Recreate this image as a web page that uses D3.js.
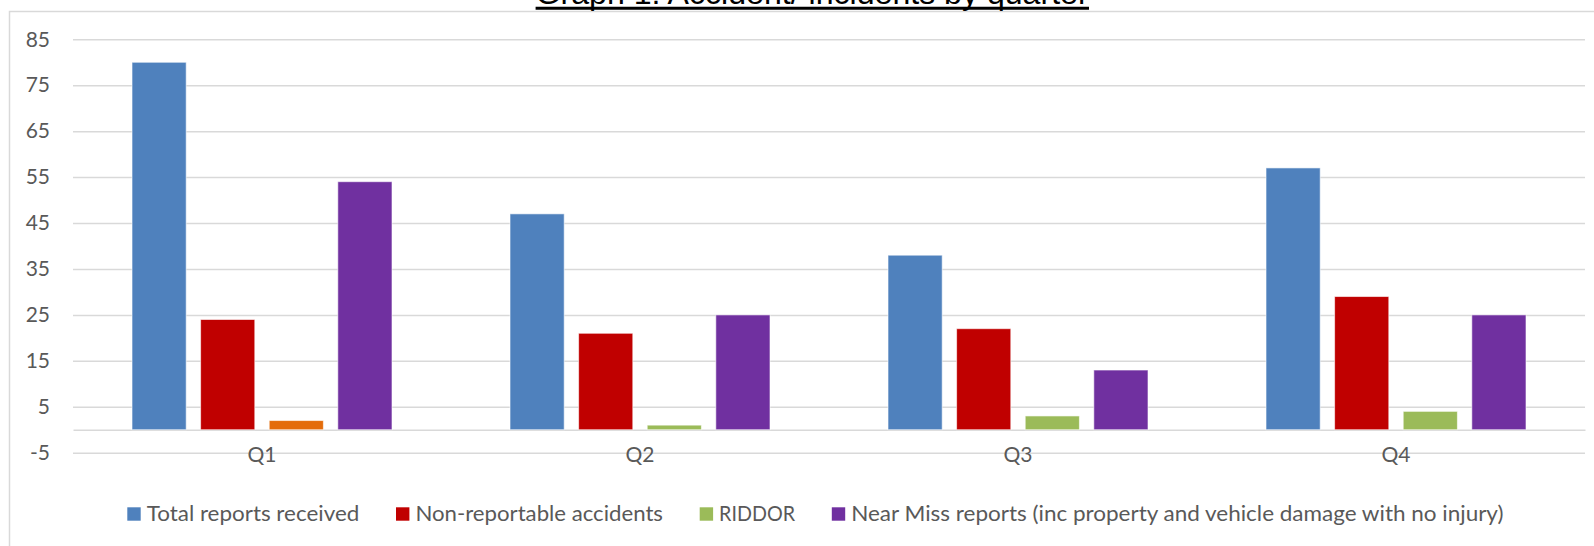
<!DOCTYPE html>
<html>
<head>
<meta charset="utf-8">
<script src="https://cdn.jsdelivr.net/npm/d3@7"></script>
<style>
  html, body { margin: 0; padding: 0; background: #fff; }
  svg { display: block; }
</style>
</head>
<body>
<svg id="chart" width="1594" height="546"></svg>
<script>
// ---- data ----
const titleText = "Graph 1: Accident/ incidents by quarter";
const quarters = ["Q1", "Q2", "Q3", "Q4"];
const seriesNames = [
  "Total reports received",
  "Non-reportable accidents",
  "RIDDOR",
  "Near Miss reports (inc property and vehicle damage with no injury)"
];
const totalReports = [80, 47, 38, 57];
const nonReportable = [24, 21, 22, 29];
const riddor = [2, 1, 3, 4];
const nearMiss = [54, 25, 13, 25];
const yTicks = [-5, 5, 15, 25, 35, 45, 55, 65, 75, 85];

// ---- styles ----
const seriesColors = ["#4F81BD", "#C00000", "#9BBB59", "#7030A0"];
const colorOverride = { "Q1|RIDDOR": "#E46C0A" };
const gridColor = "#D9D9D9";
const textColor = "#595959";
const fontFamily = "Lato, 'Open Sans', sans-serif";

const seriesValues = [totalReports, nonReportable, riddor, nearMiss];

const svg = d3.select("#chart");

// outer frame
svg.append("path")
  .attr("d", "M9.5,546 L9.5,11.5 L1594,11.5")
  .attr("fill", "none").attr("stroke", gridColor).attr("stroke-width", 1.5);

// title (cut off at top, as in the source image)
svg.append("text")
  .attr("x", 535.6).attr("y", 4)
  .attr("font-family", "'Liberation Sans', Arial, sans-serif")
  .attr("font-size", 32).attr("fill", "#000")
  .attr("textLength", 553).attr("lengthAdjust", "spacingAndGlyphs")
  .text(titleText);
svg.append("line")
  .attr("x1", 535.6).attr("x2", 1089).attr("y1", 8.3).attr("y2", 8.3)
  .attr("stroke", "#000").attr("stroke-width", 3);

// scales
const x0 = d3.scaleBand().domain(quarters).range([73, 1585]).paddingInner(0).paddingOuter(0);
const x1 = d3.scaleBand().domain(seriesNames).range([59, 319]).paddingInner(0.21).paddingOuter(0);
const y = d3.scaleLinear().domain([-5, 85]).range([452.7, 39.3]);

// gridlines + y tick labels
const yAxis = d3.axisLeft(y).tickValues(yTicks).tickSize(-(1585 - 73))
  .tickFormat(d => String(d)).tickPadding(23);
const yg = svg.append("g").attr("transform", "translate(73,0)").call(yAxis);
yg.select(".domain").remove();
yg.selectAll(".tick line").attr("stroke", gridColor).attr("stroke-width", 1.5);
yg.selectAll(".tick text")
  .attr("fill", textColor).attr("font-family", fontFamily).attr("font-size", 21);

// zero / category axis line
const xAxis = d3.axisBottom(x0).tickSize(0).tickPadding(0);
const xg = svg.append("g").attr("transform", `translate(0,${y(0)})`).call(xAxis);
xg.select(".domain").attr("stroke", gridColor).attr("stroke-width", 1.5);
xg.selectAll(".tick text")
  .attr("fill", textColor).attr("font-family", fontFamily).attr("font-size", 21)
  .attr("dy", 0).attr("y", 32);

// bars
const rows = [];
quarters.forEach((q, qi) => {
  seriesNames.forEach((s, si) => {
    rows.push({ q, s, si, v: seriesValues[si][qi] });
  });
});
svg.append("g").selectAll("rect").data(rows).join("rect")
  .attr("x", d => x0(d.q) + x1(d.s))
  .attr("width", x1.bandwidth())
  .attr("y", d => y(Math.max(0, d.v)))
  .attr("height", d => Math.abs(y(d.v) - y(0)))
  .attr("fill", d => colorOverride[d.q + "|" + d.s] || seriesColors[d.si])
  .attr("stroke", "#ffffff").attr("stroke-opacity", 0.6).attr("stroke-width", 1);

// legend
const legendWidths = [212.6, 247.6, 76, 652.3];
let lx = 127.3;
const lg = svg.append("g");
seriesNames.forEach((s, i) => {
  lg.append("rect").attr("x", lx).attr("y", 507.3).attr("width", 13.4).attr("height", 13.4)
    .attr("fill", seriesColors[i]);
  lg.append("text").attr("x", lx + 19.4).attr("y", 520.5)
    .attr("font-family", fontFamily).attr("font-size", 21).attr("fill", textColor)
    .attr("textLength", legendWidths[i]).attr("lengthAdjust", "spacingAndGlyphs")
    .text(s);
  lx += 19.4 + legendWidths[i] + 36.7;
});
</script>
</body>
</html>
